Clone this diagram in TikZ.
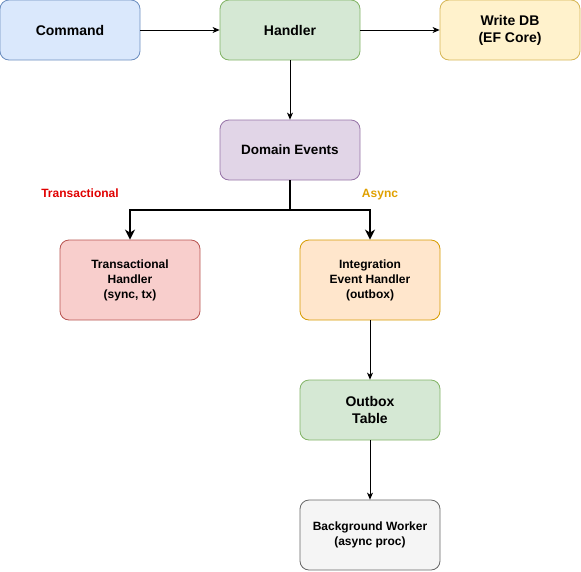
\documentclass[tikz,border=0pt]{standalone}
\usepackage{fontspec}
\setmainfont{Liberation Sans}
\usetikzlibrary{arrows.meta}
\definecolor{blueF}{HTML}{DAE8FC}\definecolor{blueS}{HTML}{6C8EBF}
\definecolor{greenF}{HTML}{D5E8D4}\definecolor{greenS}{HTML}{82B366}
\definecolor{yelF}{HTML}{FFF2CC}\definecolor{yelS}{HTML}{D6B656}
\definecolor{purF}{HTML}{E1D5E7}\definecolor{purS}{HTML}{9673A6}
\definecolor{redF}{HTML}{F8CECC}\definecolor{redS}{HTML}{B85450}
\definecolor{oraF}{HTML}{FFE6CC}\definecolor{oraS}{HTML}{D79B00}
\definecolor{grayF}{HTML}{F5F5F5}\definecolor{grayS}{HTML}{666666}
\definecolor{lblred}{HTML}{E00000}\definecolor{lblora}{HTML}{E0A000}
\tikzset{
  box/.style={draw, rounded corners=9pt, minimum width=140pt, minimum height=60pt, align=center, inner sep=0pt, font=\bfseries\fontsize{14}{17}\selectfont, line width=0.8pt},
  smallfont/.style={font=\bfseries\fontsize{12}{15}\selectfont},
  thin arrow/.style={draw, line width=0.8pt, -{Stealth[length=7pt,width=6pt,inset=2pt]}},
  thick arrow/.style={draw, line width=2pt, -{Stealth[length=10pt,width=10pt,inset=3pt]}},
}
\begin{document}
\begin{tikzpicture}[x=1pt,y=-1pt]
\useasboundingbox (0,0) rectangle (581,571);
\node[box, fill=blueF, draw=blueS] (cmd) at (70,30) {Command};
\node[box, fill=greenF, draw=greenS] (hdl) at (290,30) {Handler};
\node[box, fill=yelF, draw=yelS] (wdb) at (510,30) {Write DB\\(EF Core)};
\node[box, fill=purF, draw=purS, font=\bfseries\fontsize{13.5}{16}\selectfont] (dev) at (290,150) {Domain Events};
\node[box, fill=redF, draw=redS, minimum height=80pt, smallfont] (trh) at (130,280) {Transactional\\Handler\\(sync, tx)};
\node[box, fill=oraF, draw=oraS, minimum height=80pt, smallfont] (ieh) at (370,280) {Integration\\Event Handler\\(outbox)};
\node[box, fill=greenF, draw=greenS] (obt) at (370,410) {Outbox\\Table};
\node[box, fill=grayF, draw=grayS, minimum height=70pt, smallfont] (bgw) at (370,535) {Background Worker\\(async proc)};
\node[text=lblred, smallfont, text height=9pt, text depth=3pt] (lt) at (80,194) {Transactional};
\node[text=lblora, smallfont, text height=9pt, text depth=3pt] (la) at (380,194) {Async};
\path[thin arrow] (cmd) -- (hdl);
\path[thin arrow] (hdl) -- (wdb);
\path[thin arrow] (hdl) -- (dev);
\path[thick arrow] (dev.south) |- (130,210) -- (trh.north);
\path[thick arrow] (dev.south) |- (370,210) -- (ieh.north);
\path[thin arrow] (ieh) -- (obt);
\path[thin arrow] (obt) -- (bgw);
\end{tikzpicture}
\end{document}
